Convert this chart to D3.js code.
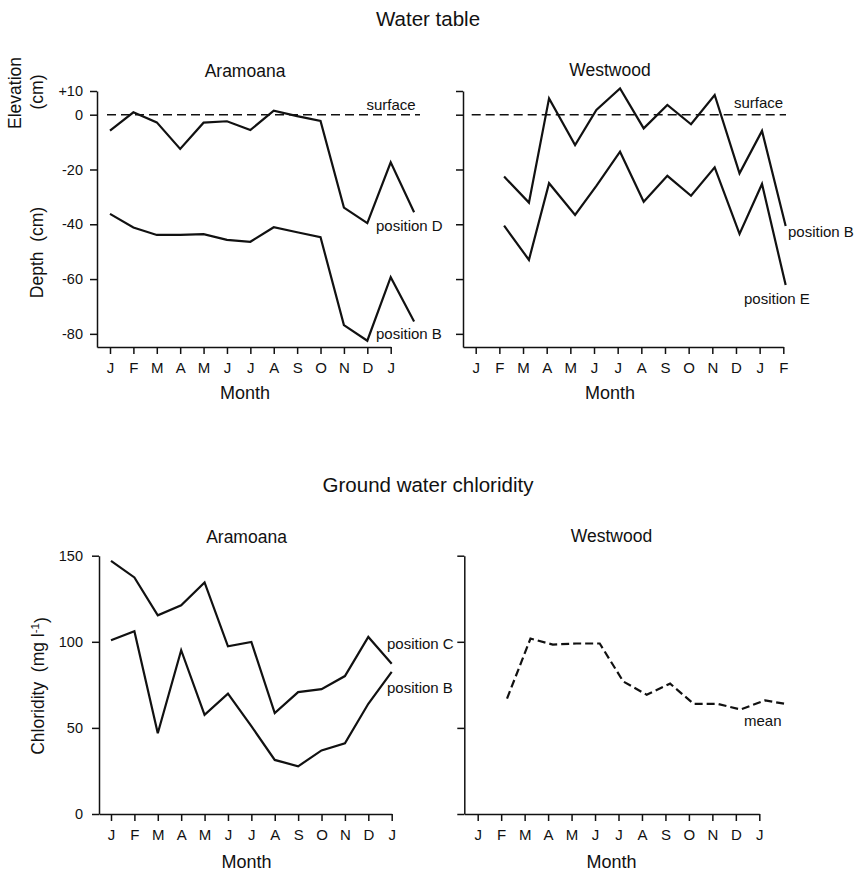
<!DOCTYPE html>
<html>
<head>
<meta charset="utf-8">
<script src="https://cdn.jsdelivr.net/npm/d3@7/dist/d3.min.js"></script>
<style>
  html, body { margin: 0; padding: 0; background: #fff; }
  svg text { font-family: "Liberation Sans", Arial, Helvetica, sans-serif; fill: #111; }
</style>
</head>
<body>
<svg id="chart" width="856" height="872"></svg>
<script>
// ---------- DATA ----------
const monthLabels13 = ["J","F","M","A","M","J","J","A","S","O","N","D","J"];
const monthLabels14 = ["J","F","M","A","M","J","J","A","S","O","N","D","J","F"];
const depthTicks = [10, 0, -20, -40, -60, -80];
const chlorTicks = [0, 50, 100, 150];

// Water table, Aramoana (month index 0 = J ... 13 = F)
const aramWT_month = [0,1,2,3,4,5,6,7,8,9,10,11,12,13];
const aramWT_posD  = [-5.8, 1.0, -2.8, -12.5, -2.9, -2.4, -5.6, 1.7, -0.5, -2.3, -33.9, -39.6, -17.4, -35.6];
const aramWT_posB  = [-36.2, -41.2, -43.9, -43.9, -43.6, -45.7, -46.4, -41.1, -42.9, -44.7, -76.8, -82.5, -59.3, -75.5];

// Water table, Westwood
const westWT_month = [1.2, 2.25, 3.1, 4.2, 5.1, 6.1, 7.1, 8.1, 9.1, 10.1, 11.15, 12.1, 13.1];
const westWT_posB  = [-22.6, -32.1, 6.9, -11.1, 2.0, 11.1, -5.0, 4.1, -3.5, 8.3, -21.4, -5.9, -40.6];
const westWT_posE  = [-40.5, -53.0, -25.0, -36.6, -26.0, -13.5, -31.8, -22.3, -29.6, -19.2, -43.5, -25.3, -62.2];

// Ground water chloridity, Aramoana
const aramCl_month = [0,1,2,3,4,5,6,7,8,9,10,11,12];
const aramCl_posC  = [147, 137.4, 115.4, 121.2, 134.5, 97.4, 99.9, 58.6, 70.8, 72.5, 80.1, 102.8, 87.3];
const aramCl_posB  = [100.9, 106.1, 46.9, 95.1, 57.6, 69.9, 51, 31.4, 27.7, 36.9, 41.1, 64, 82.5];

// Ground water chloridity, Westwood
const westCl_month = [1.25, 2.25, 3.2, 4.2, 5.2, 6.2, 7.2, 8.2, 9.2, 10.2, 11.2, 12.25, 13.2];
const westCl_mean  = [67, 101.9, 98.4, 99, 99, 77, 69.3, 75.7, 64, 64, 60.7, 66, 63.7];

// ---------- DRAWING ----------
const svg = d3.select("#chart");
const INK = "#111";

const yTop = d3.scaleLinear().domain([-84.8, 0, 10]).range([347, 114.7, 91]);
const yBot = d3.scaleLinear().domain([0, 150]).range([814, 555.7]);

function text(x, y, str, size, anchor) {
  return svg.append("text")
    .attr("x", x).attr("y", y)
    .attr("dy", "0.35em")
    .attr("text-anchor", anchor || "middle")
    .style("font-size", size + "px")
    .text(str);
}

function panel(cfg) {
  const g = svg.append("g");
  const x = d3.scaleLinear().domain([0, cfg.lastIdx]).range([cfg.x0, cfg.x1]);
  const y = cfg.y;
  const axisY = y.range()[0];

  // x axis
  const xa = d3.scaleLinear()
    .domain([x.invert(cfg.axisX), cfg.lastIdx])
    .range([cfg.axisX, cfg.x1]);
  const gx = g.append("g")
    .attr("transform", `translate(0,${axisY})`)
    .call(d3.axisBottom(xa)
      .tickValues(d3.range(cfg.lastIdx + 1))
      .tickFormat(i => cfg.labels[i])
      .tickSizeInner(7).tickSizeOuter(0));
  gx.selectAll("text").attr("y", 21).attr("dy", "0.35em")
    .style("font-size", "15px").style("fill", INK);
  gx.selectAll("path, line").attr("stroke", INK).attr("stroke-width", 1.5);
  gx.attr("font-family", null).attr("font-size", null);

  // y axis
  const gy = g.append("g")
    .attr("transform", `translate(${cfg.axisX},0)`)
    .call(d3.axisLeft(y)
      .tickValues(cfg.yTicks)
      .tickFormat(cfg.showY ? cfg.yFormat : () => "")
      .tickSizeInner(7).tickSizeOuter(0).tickPadding(cfg.yPad || 7));
  gy.selectAll("text").style("font-size", "14.5px").style("fill", INK);
  gy.selectAll("path, line").attr("stroke", INK).attr("stroke-width", 1.5);
  gy.attr("font-family", null).attr("font-size", null);

  // series
  const line = d3.line().x(d => x(d[0])).y(d => y(d[1]));
  cfg.series.forEach(s => {
    g.append("path")
      .datum(d3.zip(s.x, s.v))
      .attr("d", line)
      .attr("fill", "none")
      .attr("stroke", INK)
      .attr("stroke-width", 2.2)
      .attr("stroke-dasharray", s.dash || null);
  });

  // surface reference
  if (cfg.surface) {
    g.append("line")
      .attr("x1", cfg.surface[0]).attr("x2", cfg.surface[1])
      .attr("y1", y(0)).attr("y2", y(0))
      .attr("stroke", INK).attr("stroke-width", 1.6)
      .attr("stroke-dasharray", "9,5");
  }
  return x;
}

const fmtDepth = d => d > 0 ? "+" + d : String(d);

// Top-left
panel({ x0: 110, x1: 390.7, lastIdx: 12, axisX: 97, y: yTop, labels: monthLabels13,
  yTicks: depthTicks, showY: true, yFormat: fmtDepth, yPad: 7,
  surface: [107, 420],
  series: [{ x: aramWT_month, v: aramWT_posD }, { x: aramWT_month, v: aramWT_posB }] });

// Top-right
panel({ x0: 475.7, x1: 783.3, lastIdx: 13, axisX: 463, y: yTop, labels: monthLabels14,
  yTicks: depthTicks, showY: false,
  surface: [471.7, 786],
  series: [{ x: westWT_month, v: westWT_posB }, { x: westWT_month, v: westWT_posE }] });

// Bottom-left
panel({ x0: 111, x1: 391.7, lastIdx: 12, axisX: 99, y: yBot, labels: monthLabels13,
  yTicks: chlorTicks, showY: true, yFormat: d => String(d), yPad: 9,
  series: [{ x: aramCl_month, v: aramCl_posC }, { x: aramCl_month, v: aramCl_posB }] });

// Bottom-right
panel({ x0: 477.7, x1: 759.3, lastIdx: 12, axisX: 464.3, y: yBot, labels: monthLabels13,
  yTicks: chlorTicks, showY: false,
  series: [{ x: westCl_month, v: westCl_mean, dash: "8,4" }] });

// Titles
text(428, 19, "Water table", 20.5);
text(428, 485, "Ground water chloridity", 20.5);
text(245, 71, "Aramoana", 17.5);
text(610, 70, "Westwood", 17.5);
text(246.5, 536.5, "Aramoana", 17.5);
text(611.5, 536, "Westwood", 17.5);

// Month axis titles
text(245, 393, "Month", 18);
text(610, 393, "Month", 18);
text(246.5, 861.5, "Month", 18);
text(611.5, 861.5, "Month", 18);

// Y axis titles (rotated)
function vtext(x, y, str, size) {
  return svg.append("text")
    .attr("transform", `translate(${x},${y}) rotate(-90)`)
    .attr("dy", "0.35em")
    .attr("text-anchor", "middle")
    .style("font-size", size + "px")
    .text(str);
}
vtext(15, 93, "Elevation", 17.5);
vtext(37, 92, "(cm)", 17.5);
vtext(37, 252.5, "Depth\u00a0\u00a0(cm)", 17.5);
const chl = svg.append("text")
  .attr("transform", "translate(38,686) rotate(-90)")
  .attr("dy", "0.35em")
  .attr("text-anchor", "middle")
  .style("font-size", "17.5px");
chl.append("tspan").text("Chloridity\u00a0\u00a0(mg\u00a0l");
chl.append("tspan").attr("dy", "-0.45em").style("font-size", "11.5px").text("-1");
chl.append("tspan").attr("dy", "0.45em").text(")");

// Series labels
text(391, 105, "surface", 15);
text(758.5, 103, "surface", 15);
text(376, 225.7, "position D", 15, "start");
text(376, 334, "position B", 15, "start");
text(788, 232, "position B", 15, "start");
text(744, 299, "position E", 15, "start");
text(387, 644, "position C", 15, "start");
text(387, 688, "position B", 15, "start");
text(744, 721, "mean", 15, "start");
</script>
</body>
</html>
